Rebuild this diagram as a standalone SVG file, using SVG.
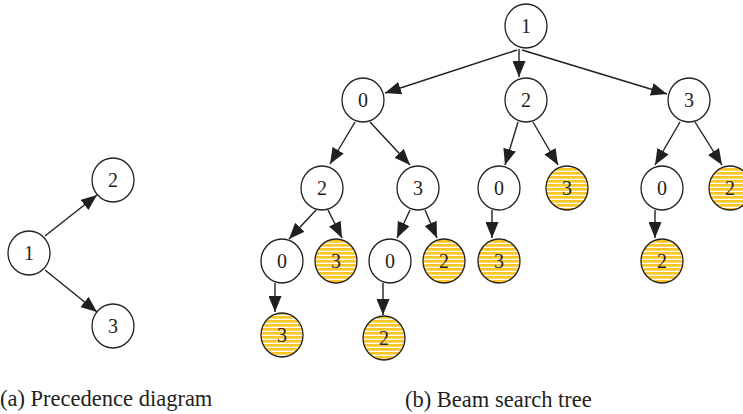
<svg xmlns="http://www.w3.org/2000/svg" width="743" height="414" viewBox="0 0 743 414">
<style>
.n{fill:#fff;stroke:#231f20;stroke-width:1.3}
.s{fill:url(#stripes);stroke:#231f20;stroke-width:1.3}
.t{font-family:"Liberation Serif","Times New Roman",serif;font-size:20px;fill:#231f20;text-anchor:middle}
.c{font-family:"Liberation Serif","Times New Roman",serif;font-size:22.5px;fill:#231f20}
.e line{stroke:#231f20;stroke-width:1.4;marker-end:url(#ah)}
</style>
<defs>
<pattern id="stripes" patternUnits="userSpaceOnUse" width="10" height="4">
<rect width="10" height="4" fill="#fff"/>
<rect width="10" height="2.7" fill="#fcc726"/>
</pattern>
<marker id="ah" markerUnits="userSpaceOnUse" viewBox="0 0 16 13" refX="16" refY="6.5" markerWidth="16" markerHeight="13" orient="auto">
<path d="M0,0 L16,6.5 L0,13 Z" fill="#231f20"/>
</marker>
</defs>
<g id="connectors" class="e">
<line x1="45" y1="236" x2="97" y2="195"/>
<line x1="45" y1="270" x2="97" y2="312"/>
<line x1="517" y1="50" x2="385" y2="93"/>
<line x1="519" y1="49" x2="519" y2="77"/>
<line x1="522" y1="50" x2="667" y2="94"/>
<line x1="355" y1="122" x2="330" y2="164"/>
<line x1="370" y1="122" x2="410" y2="165"/>
<line x1="518" y1="122" x2="505" y2="165"/>
<line x1="533" y1="122" x2="558" y2="165"/>
<line x1="680" y1="122" x2="655" y2="165"/>
<line x1="695" y1="122" x2="722" y2="165"/>
<line x1="316" y1="210" x2="289" y2="239"/>
<line x1="328" y1="210" x2="342" y2="238"/>
<line x1="410" y1="210" x2="397" y2="238"/>
<line x1="425" y1="210" x2="437" y2="238"/>
<line x1="492" y1="210" x2="492" y2="238"/>
<line x1="655" y1="210" x2="655" y2="238"/>
<line x1="275" y1="283" x2="275" y2="312"/>
<line x1="383" y1="283" x2="383" y2="315"/>
</g>
<g id="a1"><ellipse class="n" cx="29" cy="253" rx="21" ry="22"/><text class="t" x="29" y="260">1</text></g>
<g id="a2"><ellipse class="n" cx="113" cy="180" rx="21" ry="22"/><text class="t" x="113" y="187">2</text></g>
<g id="a3"><ellipse class="n" cx="113" cy="326" rx="21" ry="22"/><text class="t" x="113" y="333">3</text></g>
<g id="b_root"><ellipse class="n" cx="526" cy="26" rx="21" ry="22"/><text class="t" x="526" y="33">1</text></g>
<g id="b_0"><ellipse class="n" cx="363" cy="100" rx="21" ry="22"/><text class="t" x="363" y="107">0</text></g>
<g id="b_2"><ellipse class="n" cx="526" cy="100" rx="21" ry="22"/><text class="t" x="526" y="107">2</text></g>
<g id="b_3"><ellipse class="n" cx="689" cy="100" rx="21" ry="22"/><text class="t" x="689" y="107">3</text></g>
<g id="b_02"><ellipse class="n" cx="322" cy="188" rx="21" ry="22"/><text class="t" x="322" y="195">2</text></g>
<g id="b_03"><ellipse class="n" cx="418" cy="188" rx="21" ry="22"/><text class="t" x="418" y="195">3</text></g>
<g id="b_20"><ellipse class="n" cx="499" cy="188" rx="21" ry="22"/><text class="t" x="499" y="195">0</text></g>
<g id="b_23"><ellipse class="s" cx="567" cy="188" rx="21" ry="22"/><text class="t" x="567" y="195">3</text></g>
<g id="b_30"><ellipse class="n" cx="662" cy="188" rx="21" ry="22"/><text class="t" x="662" y="195">0</text></g>
<g id="b_32"><ellipse class="s" cx="730" cy="188" rx="21" ry="22"/><text class="t" x="730" y="195">2</text></g>
<g id="b_020"><ellipse class="n" cx="282" cy="261" rx="21" ry="22"/><text class="t" x="282" y="268">0</text></g>
<g id="b_023"><ellipse class="s" cx="336" cy="261" rx="21" ry="22"/><text class="t" x="336" y="268">3</text></g>
<g id="b_030"><ellipse class="n" cx="390" cy="261" rx="21" ry="22"/><text class="t" x="390" y="268">0</text></g>
<g id="b_032"><ellipse class="s" cx="444" cy="261" rx="21" ry="22"/><text class="t" x="444" y="268">2</text></g>
<g id="b_203"><ellipse class="s" cx="499" cy="261" rx="21" ry="22"/><text class="t" x="499" y="268">3</text></g>
<g id="b_302"><ellipse class="s" cx="662" cy="261" rx="21" ry="22"/><text class="t" x="662" y="268">2</text></g>
<g id="b_0203"><ellipse class="s" cx="282" cy="335" rx="21" ry="22"/><text class="t" x="282" y="342">3</text></g>
<g id="b_0302"><ellipse class="s" cx="384" cy="338" rx="21" ry="22"/><text class="t" x="384" y="345">2</text></g>
<text class="c" x="0" y="406">(a) Precedence diagram</text>
<text class="c" x="405" y="407">(b) Beam search tree</text>
</svg>
